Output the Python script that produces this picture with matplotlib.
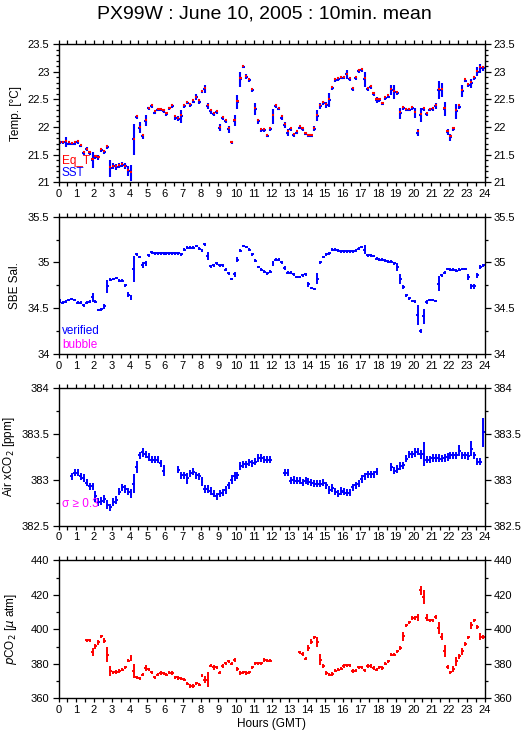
import numpy as np
import matplotlib
matplotlib.use('Agg')
import matplotlib.pyplot as plt
from matplotlib.ticker import MultipleLocator, FuncFormatter

plt.rcParams['font.family'] = ['Liberation Sans', 'DejaVu Sans']

nan = np.nan

# 10 minute bins, 0-24 h GMT
hours = (np.arange(144) + 0.5) / 6.0

# --- temperature panel ---
sst = [21.72, 21.72, 21.73, 21.70, 21.70, 21.70, 21.73, 21.66, 21.53, 21.60, 21.53, 21.40,
       21.46, 21.45, 21.58, 21.55, 21.64, 21.25, 21.29, 21.28, 21.30, 21.32, 21.29, 21.21,
       21.17, 21.78, 22.18, 21.99, 21.83, 22.11, 22.34, 22.38, 22.26, 22.31, 22.31, 22.29,
       22.23, 22.34, 22.38, 22.17, 22.15, 22.19, 22.38, 22.44, 22.40, 22.46, 22.54, 22.46,
       22.64, 22.69, 22.38, 22.28, 22.23, 22.27, 21.99, 22.16, 22.10, 21.96, 21.72, 22.11,
       22.45, 22.86, 23.09, 22.91, 22.85, 22.66, 22.32, 22.10, 21.94, 21.94, 21.84, 21.96,
       22.19, 22.38, 22.33, 22.17, 22.04, 21.90, 21.96, 21.85, 21.90, 21.99, 21.96, 21.88,
       21.84, 21.84, 21.97, 22.20, 22.38, 22.43, 22.40, 22.49, 22.70, 22.85, 22.87, 22.89,
       22.89, 22.95, 22.86, 22.69, 22.88, 23.01, 23.03, 22.86, 22.68, 22.72, 22.60, 22.49,
       22.49, 22.42, 22.52, 22.55, 22.66, 22.63, 22.61, 22.25, 22.34, 22.31, 22.31, 22.34,
       22.25, 21.90, 22.22, 22.32, 22.23, 22.31, 22.32, 22.38, 22.67, 22.67, 22.32, 21.91,
       21.81, 21.96, 22.28, 22.37, 22.65, 22.84, 22.75, 22.79, 22.88, 23.00, 23.06, 23.06]

sst_sd = [.03, .03, .09, .03, .03, .03, .04, .03, .03, .04, .03, .14,
          .04, .04, .03, .03, .04, .15, .05, .05, .05, .05, .05, .09,
          .15, .28, .03, .10, .05, .10, .03, .03, .03, .03, .03, .03,
          .03, .03, .03, .04, .04, .12, .03, .03, .03, .03, .05, .05,
          .03, .07, .06, .04, .04, .03, .06, .03, .03, .06, .03, .10,
          .13, .13, .03, .05, .03, .03, .11, .04, .03, .03, .03, .03,
          .13, .03, .03, .04, .05, .06, .03, .03, .03, .03, .03, .03,
          .03, .03, .04, .10, .05, .04, .05, .12, .03, .03, .03, .03,
          .03, .08, .03, .04, .03, .03, .03, .14, .03, .03, .04, .05,
          .03, .03, .03, .03, .09, .13, .03, .10, .03, .03, .03, .03,
          .09, .07, .13, .03, .04, .03, .04, .05, .17, .13, .13, .06,
          .07, .04, .14, .04, .10, .03, .03, .08, .03, .08, .08, .04]

eq_t = [21.73, 21.73, 21.74, 21.72, 21.71, 21.72, 21.74, 21.68, 21.55, 21.61, 21.55, 21.42,
        21.48, 21.46, 21.60, 21.57, 21.65, 21.27, 21.30, 21.30, 21.32, 21.33, 21.30, 21.23,
        21.18, 21.79, 22.20, 22.00, 21.85, 22.13, 22.35, 22.40, 22.28, 22.32, 22.33, 22.30,
        22.25, 22.35, 22.40, 22.19, 22.17, 22.21, 22.40, 22.46, 22.41, 22.48, 22.55, 22.48,
        22.65, 22.70, 22.40, 22.30, 22.25, 22.29, 22.00, 22.18, 22.12, 21.98, 21.73, 22.13,
        22.47, 22.88, 23.10, 22.93, 22.87, 22.68, 22.34, 22.12, 21.96, 21.96, 21.86, 21.98,
        22.21, 22.40, 22.35, 22.19, 22.06, 21.92, 21.98, 21.87, 21.92, 22.01, 21.98, 21.90,
        21.86, 21.86, 21.99, 22.22, 22.40, 22.45, 22.42, 22.51, 22.72, 22.87, 22.89, 22.90,
        22.90, 22.96, 22.88, 22.71, 22.90, 23.03, 23.05, 22.88, 22.70, 22.74, 22.62, 22.51,
        22.51, 22.44, 22.54, 22.57, 22.68, 22.65, 22.63, 22.27, 22.36, 22.33, 22.33, 22.36,
        22.27, 21.92, 22.24, 22.34, 22.25, 22.33, 22.34, 22.40, 22.69, 22.69, 22.34, 21.93,
        21.83, 21.98, 22.30, 22.39, 22.67, 22.86, 22.77, 22.81, 22.90, 23.02, 23.08, 23.08]

# --- salinity panel ---
sal = [34.58, 34.56, 34.57, 34.59, 34.60, 34.59, 34.56, 34.56, 34.53, 34.56, 34.57, 34.62,
       34.57, 34.48, 34.49, 34.52, 34.74, 34.81, 34.82, 34.83, 34.80, 34.80, 34.75, 34.65,
       34.62, 34.93, 35.09, 35.06, 34.97, 34.99, 35.08, 35.11, 35.10, 35.10, 35.10, 35.10,
       35.10, 35.10, 35.10, 35.10, 35.10, 35.09, 35.14, 35.16, 35.16, 35.16, 35.18, 35.15,
       35.13, 35.20, 35.07, 34.96, 34.97, 34.99, 34.97, 34.97, 34.92, 34.88, 34.82, 34.87,
       35.03, 35.13, 35.18, 35.17, 35.14, 35.09, 35.02, 34.95, 34.92, 34.90, 34.88, 34.90,
       34.99, 35.03, 35.03, 35.00, 34.94, 34.89, 34.89, 34.87, 34.84, 34.84, 34.86, 34.87,
       34.76, 34.72, 34.71, 34.82, 35.00, 35.06, 35.09, 35.10, 35.14, 35.14, 35.13, 35.12,
       35.12, 35.12, 35.12, 35.12, 35.13, 35.15, 35.17, 35.14, 35.08, 35.08, 35.07, 35.04,
       35.03, 35.03, 35.02, 35.01, 35.01, 34.99, 34.95, 34.82, 34.73, 34.64, 34.61, 34.58,
       34.57, 34.43, 34.25, 34.41, 34.57, 34.59, 34.59, 34.58, 34.77, 34.86, 34.89, 34.93,
       34.92, 34.92, 34.91, 34.92, 34.93, 34.93, 34.84, 34.74, 34.74, 34.86, 34.95, 34.97]

sal_sd = [.02, .015, .015, .015, .015, .015, .015, .015, .015, .015, .015, .05,
          .015, .015, .015, .03, .07, .015, .015, .015, .015, .015, .015, .03,
          .03, .14, .015, .015, .03, .03, .015, .015, .015, .015, .015, .015,
          .015, .015, .015, .015, .015, .015, .015, .015, .015, .015, .015, .015,
          .015, .015, .04, .015, .015, .015, .015, .015, .015, .015, .015, .03,
          .03, .015, .015, .015, .015, .015, .015, .015, .015, .015, .015, .015,
          .03, .015, .015, .015, .02, .015, .015, .015, .015, .015, .015, .015,
          .03, .015, .015, .06, .02, .015, .015, .015, .015, .015, .015, .015,
          .015, .015, .015, .015, .015, .015, .015, .05, .015, .015, .015, .015,
          .015, .015, .015, .015, .015, .015, .04, .05, .02, .015, .015, .015,
          .015, .11, .02, .08, .02, .015, .015, .015, .08, .015, .015, .015,
          .015, .015, .015, .015, .015, .015, .03, .03, .03, .03, .02, .015]

# --- air xCO2 panel ---
xco2 = [nan, nan, nan, nan, 383.04, 383.08, 383.08, 383.04, 383.02, 382.97, 382.93, 382.93,
        382.82, 382.76, 382.77, 382.79, 382.73, 382.70, 382.76, 382.78, 382.87, 382.92, 382.90, 382.87,
        382.85, 382.96, 383.14, 383.27, 383.30, 383.28, 383.25, 383.22, 383.22, 383.22, 383.18, 383.10,
        nan, nan, nan, nan, 383.11, 383.05, 383.05, 383.02, 383.07, 383.09, 383.05, 383.04,
        382.98, 382.90, 382.90, 382.88, 382.85, 382.82, 382.85, 382.86, 382.89, 382.94, 383.00, 383.04,
        383.05, 383.15, 383.17, 383.17, 383.19, 383.18, 383.20, 383.24, 383.24, 383.22, 383.22, 383.22,
        nan, nan, nan, nan, 383.08, 383.08, 382.99, 383.00, 382.99, 382.99, 382.97, 382.99,
        382.98, 382.97, 382.96, 382.96, 382.96, 382.97, 382.94, 382.89, 382.91, 382.87, 382.85, 382.88,
        382.87, 382.86, 382.86, 382.92, 382.94, 382.96, 383.01, 383.04, 383.06, 383.06, 383.06, 383.09,
        nan, nan, nan, nan, 383.14, 383.10, 383.12, 383.15, 383.16, 383.23, 383.28, 383.28,
        383.30, 383.31, 383.28, 383.28, 383.22, 383.22, 383.24, 383.24, 383.24, 383.23, 383.24, 383.25,
        383.27, 383.27, 383.27, 383.32, 383.27, 383.27, 383.26, 383.34, 383.27, 383.20, 383.20, 383.52]

xco2_sd = [.04, .04, .04, .04, .04, .04, .04, .04, .04, .04, .04, .04,
           .06, .04, .04, .04, .05, .04, .04, .04, .04, .04, .04, .04,
           .05, .10, .07, .04, .05, .04, .04, .04, .04, .04, .04, .06,
           .04, .04, .04, .04, .04, .04, .04, .06, .04, .04, .04, .04,
           .05, .04, .04, .04, .04, .04, .04, .04, .04, .04, .05, .05,
           .04, .04, .04, .04, .04, .04, .04, .04, .04, .04, .04, .04,
           .04, .04, .04, .04, .04, .04, .04, .04, .04, .04, .04, .04,
           .04, .04, .04, .04, .04, .04, .04, .04, .04, .04, .04, .04,
           .04, .04, .04, .04, .04, .04, .04, .04, .04, .04, .04, .04,
           .04, .04, .04, .04, .04, .04, .04, .04, .04, .04, .04, .04,
           .05, .04, .05, .13, .04, .04, .04, .04, .04, .04, .04, .04,
           .04, .04, .04, .06, .04, .04, .04, .08, .04, .04, .04, .16]

# --- pCO2 panel ---
pco2 = [nan, nan, nan, nan, nan, nan, nan, nan, nan, 393.6, 393.6, 386.9,
        390.1, 392.5, 395.9, 393.4, 385.3, 375.7, 375.1, 375.3, 375.7, 376.6, 378.0, 381.8,
        383.4, 376.0, 372.2, 371.6, 373.7, 377.6, 376.8, 375.1, 372.2, 373.7, 374.7, 374.5,
        373.7, 374.9, 374.7, 372.2, 371.8, 371.4, 370.8, 368.5, 367.0, 367.0, 368.7, 367.9,
        373.1, 370.8, 370.8, 378.9, 378.0, 378.0, 374.9, 378.6, 380.3, 381.4, 380.1, 382.2,
        377.0, 374.7, 375.1, 374.7, 375.1, 378.0, 380.3, 380.3, 380.3, 382.2, 381.8, 381.8,
        nan, nan, nan, nan, nan, nan, nan, nan, nan, 386.7, 385.7, 383.0,
        389.2, 392.7, 395.4, 392.7, 382.4, 378.6, 374.7, 373.7, 374.1, 376.0, 376.6, 377.2,
        378.6, 379.1, 379.1, 375.7, 376.0, 378.0, 378.0, 376.2, 378.6, 378.6, 377.6, 376.6,
        378.0, 377.6, 380.1, 381.4, 385.3, 385.3, 387.2, 389.2, 395.9, 402.3, 404.1, 406.6,
        406.6, 407.0, 422.6, 418.6, 406.6, 405.2, 405.2, 407.1, 400.8, 395.6, 387.2, 378.2,
        375.1, 377.0, 381.4, 384.3, 387.2, 391.5, 395.4, 402.3, 405.2, 401.2, 395.6, 395.6]

pco2_sd = [1, 1, 1, 1, 1, 1, 1, 1, 1, 1, 1, 2.5,
           1.5, 1.5, 1, 1.5, 4.5, 3, 1, 1, 1, 1, 1, 1,
           1.5, 4, 1, 1, 1, 1.5, 1, 1, 1, 1, 1, 1,
           1, 1, 1, 1, 1, 1, 1, 1, 1, 1, 1, 1,
           1, 2, 4.5, 1, 1.5, 1, 1, 1, 1, 1, 1, 1.2,
           1, 1, 1, 1, 1, 1, 1, 1, 1, 1, 1, 1,
           1, 1, 1, 1, 1, 1, 1, 1, 1, 1, 1, 1,
           1.5, 1.5, 1, 3, 3, 1, 1, 1, 1, 1, 1, 1,
           1, 1, 1, 1, 1, 1, 1, 1, 1, 1, 1, 1,
           1, 1, 1, 1, 1, 1, 1, 1, 2.5, 1, 1, 1,
           1, 2, 2.5, 4, 2, 1, 1, 1, 3.5, 2, 3.5, 1,
           1, 1.5, 2.5, 1.5, 2, 1, 1, 2, 1, 1.2, 2, 1]

hour_ticks = list(range(25))

BLUE = '#0000ff'
RED = '#ff0000'
MAG = '#ff00ff'

fig = plt.figure(figsize=(5.29, 7.39), dpi=100)
fig.text(0.5, 0.981, 'PX99W : June 10, 2005 : 10min. mean', ha='center', va='center', fontsize=14)

W, H = 529.0, 739.0
left, right = 58.5, 484.5
# pixel top/bottom of each panel
panels = [(44.0, 182.3), (216.7, 354.0), (388.3, 525.7), (560.3, 698.3)]

fmt = FuncFormatter(lambda v, p: '%g' % v)


def make_axes(top, bottom, ylim, major, minor, ylabel, labx):
    ax = fig.add_axes([left / W, 1 - bottom / H, (right - left) / W, (bottom - top) / H])
    ax.set_xlim(0, 24)
    ax.set_ylim(*ylim)
    ax.set_xticks(hour_ticks)
    ax.xaxis.set_minor_locator(MultipleLocator(0.5))
    ax.yaxis.set_major_locator(MultipleLocator(major))
    ax.yaxis.set_minor_locator(MultipleLocator(minor))
    ax.yaxis.set_major_formatter(fmt)
    ax.tick_params(axis='x', which='major', direction='out', top=True, bottom=True,
                   length=3.2, width=0.9, labelsize=8, pad=1.5)
    ax.tick_params(axis='x', which='minor', direction='out', top=True, bottom=True,
                   length=2.6, width=0.9)
    ax.tick_params(axis='y', which='major', direction='out', left=True, right=True,
                   labelleft=True, labelright=True, length=4.5, width=0.9, labelsize=8, pad=2)
    ax.tick_params(axis='y', which='minor', direction='out', left=True, right=True,
                   length=2.4, width=0.9)
    for s in ax.spines.values():
        s.set_linewidth(1.0)
    ax.set_ylabel(ylabel, fontsize=8.5)
    ax.yaxis.set_label_coords(labx, 0.5)
    return ax


# Temperature
ax1 = make_axes(*panels[0], (21, 23.5), 0.5, 0.1, 'Temp. [°C]', -0.085)
ax1.errorbar(hours, sst, xerr=1 / 12, yerr=sst_sd, fmt='none', ecolor=BLUE, elinewidth=1.5, capsize=0)
ax1.errorbar(hours, eq_t, xerr=0.06, fmt='none', ecolor=RED, elinewidth=1.5, capsize=0)
ax1.text(0.008, 0.155, 'Eq_T', color=RED, transform=ax1.transAxes, fontsize=8.5, va='center')
ax1.text(0.008, 0.068, 'SST', color=BLUE, transform=ax1.transAxes, fontsize=8.5, va='center')

# Salinity
ax2 = make_axes(*panels[1], (34, 35.5), 0.5, 0.25, 'SBE Sal.', -0.088)
ax2.errorbar(hours, sal, xerr=1 / 12, yerr=sal_sd, fmt='none', ecolor=BLUE, elinewidth=1.4, capsize=0)
ax2.text(0.008, 0.167, 'verified', color=BLUE, transform=ax2.transAxes, fontsize=8.5, va='center')
ax2.text(0.008, 0.068, 'bubble', color=MAG, transform=ax2.transAxes, fontsize=8.5, va='center')

# Air xCO2
ax3 = make_axes(*panels[2], (382.5, 384), 0.5, 0.25, 'Air xCO$_2$ [ppm]', -0.097)
ax3.errorbar(hours, xco2, xerr=1 / 12, yerr=xco2_sd, fmt='none', ecolor=BLUE, elinewidth=1.4, capsize=0)
ax3.text(0.008, 0.158, 'σ ≥ 0.3', color=MAG, transform=ax3.transAxes, fontsize=8.5, va='center')

# pCO2
ax4 = make_axes(*panels[3], (360, 440), 20, 10, '$p$CO$_2$ [$\\mu$ atm]', -0.092)
ax4.errorbar(hours, pco2, xerr=1 / 12, yerr=pco2_sd, fmt='none', ecolor=RED, elinewidth=1.4, capsize=0)
ax4.set_xlabel('Hours (GMT)', fontsize=8.5, labelpad=2)

fig.savefig('out.png', dpi=100)
